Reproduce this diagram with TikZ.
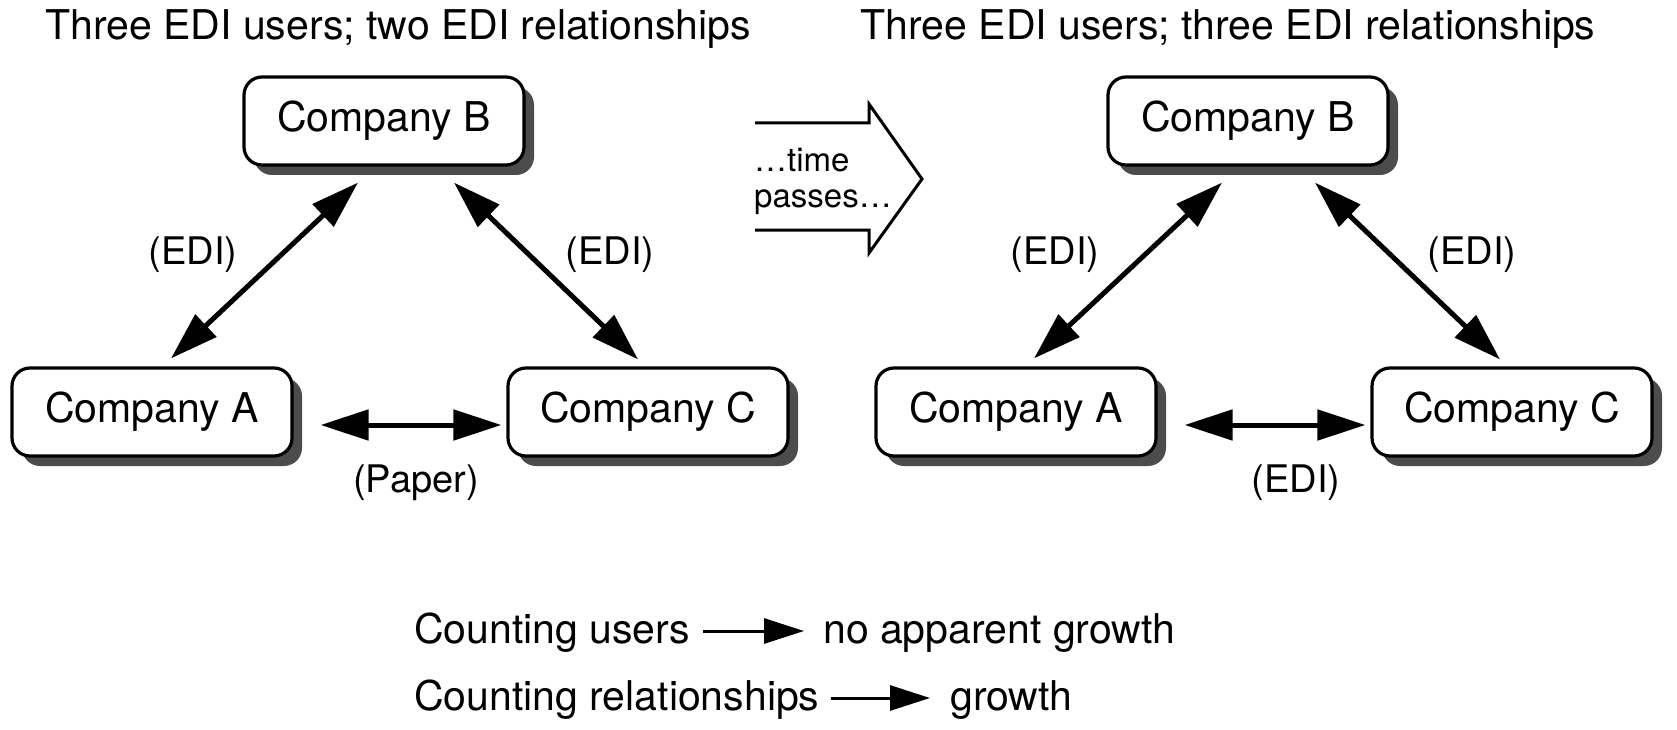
\documentclass[tikz,border=0pt]{standalone}
\usepackage{fontspec}
\setmainfont{TeX Gyre Heros}
\usetikzlibrary{arrows.meta,shadows}
\begin{document}
\begin{tikzpicture}[x=1pt,y=-1pt,
  company/.style={draw, line width=3.2pt, rounded corners=18pt, fill=white,
    minimum width=280pt, minimum height=88pt, inner sep=0pt,
    font=\fontsize{41}{48}\selectfont,
    general shadow={fill=black!70, shadow xshift=10pt, shadow yshift=-10pt}},
  lbl/.style={font=\fontsize{41}{48}\selectfont, inner sep=0pt, text height=30pt, text depth=9pt},
  smalllbl/.style={font=\fontsize{38}{44}\selectfont, inner sep=0pt, text height=28pt, text depth=9pt},
  biarrow/.style={line width=5pt, {Triangle[length=48pt,width=30pt]}-{Triangle[length=48pt,width=30pt]}},
  legarrow/.style={line width=3pt, -{Triangle[length=40pt,width=25pt]}},
  bigarrow/.style={line width=3pt, line join=miter}
]
\useasboundingbox (0,0) rectangle (1677,730);

% titles
\node[lbl] (t1) at (398,29) {Three EDI users; two EDI relationships};
\node[lbl] (t2) at (1228,29) {Three EDI users; three EDI relationships};

% left group
\node[company] (lB) at (384,121) {Company B};
\node[company] (lA) at (152,412) {Company A};
\node[company] (lC) at (648,412) {Company C};
\draw[biarrow] ([xshift=-26pt,yshift=-16pt]lB.south) -- ([xshift=19pt,yshift=8pt]lA.north);
\draw[biarrow] ([xshift=70pt,yshift=-16pt]lB.south) -- ([xshift=-10pt,yshift=7pt]lC.north);
\draw[biarrow] ([xshift=27pt,yshift=-13pt]lA.east) -- ([xshift=-5pt,yshift=-13pt]lC.west);
\node[smalllbl] (l1) at (193,255) {(EDI)};
\node[smalllbl] (l2) at (610,255) {(EDI)};
\node[smalllbl] (l3) at (416,483) {(Paper)};

% big arrow
\draw[bigarrow] (755,123) -- (869,123) -- (869,104) -- (922,179) -- (869,253) -- (869,230) -- (755,230);
\node[anchor=west, align=left, inner sep=0pt, font=\fontsize{33}{36}\selectfont] (tp) at (754,181) {…time\\passes…};

% right group
\node[company] (rB) at (1248,121) {Company B};
\node[company] (rA) at (1016,412) {Company A};
\node[company] (rC) at (1512,412) {Company C};
\draw[biarrow] ([xshift=-26pt,yshift=-16pt]rB.south) -- ([xshift=18pt,yshift=8pt]rA.north);
\draw[biarrow] ([xshift=67pt,yshift=-16pt]rB.south) -- ([xshift=-12pt,yshift=7pt]rC.north);
\draw[biarrow] ([xshift=27pt,yshift=-13pt]rA.east) -- ([xshift=-5pt,yshift=-13pt]rC.west);
\node[smalllbl] (r1) at (1055,255) {(EDI)};
\node[smalllbl] (r2) at (1472,255) {(EDI)};
\node[smalllbl] (r3) at (1296,483) {(EDI)};

% legend
\node[lbl, anchor=west] (cu) at (414,633) {Counting users};
\node[lbl, anchor=west] (nag) at (823,633) {no apparent growth};
\node[lbl, anchor=west] (cr) at (414,700) {Counting relationships};
\node[lbl, anchor=west] (gr) at (950,700) {growth};
\draw[legarrow] ([xshift=13pt,yshift=2pt]cu.east) -- ([xshift=-19pt,yshift=2pt]nag.west);
\draw[legarrow] ([xshift=11pt,yshift=2pt]cr.east) -- ([xshift=-20pt,yshift=2pt]gr.west);
\end{tikzpicture}
\end{document}
